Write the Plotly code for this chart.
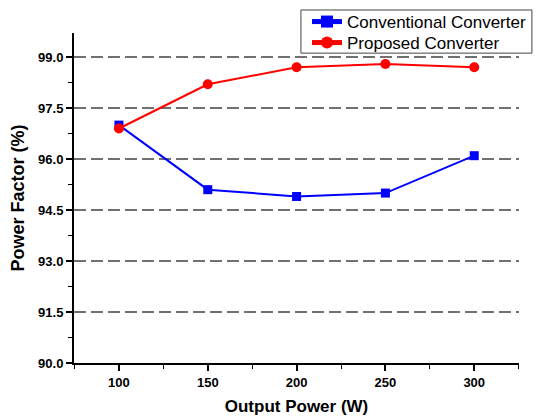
import plotly.graph_objects as go

output_power = [100, 150, 200, 250, 300]
conventional = [97.0, 95.1, 94.9, 95.0, 96.1]
proposed = [96.9, 98.2, 98.7, 98.8, 98.7]
y_ticks = [90.0, 91.5, 93.0, 94.5, 96.0, 97.5, 99.0]
x_ticks = [100, 150, 200, 250, 300]

FONT = "Liberation Sans, Arial, sans-serif"

fig = go.Figure()
fig.add_trace(go.Scatter(
    x=output_power, y=conventional, name="Conventional Converter",
    mode="lines+markers", legend="legend",
    line=dict(color="#0000ff", width=2),
    marker=dict(symbol="square", size=9, color="#0000ff"),
))
fig.add_trace(go.Scatter(
    x=output_power, y=proposed, name="Proposed Converter",
    mode="lines+markers", legend="legend2",
    line=dict(color="#ff0000", width=2),
    marker=dict(symbol="circle", size=10, color="#ff0000"),
))

leg_common = dict(
    xanchor="left", yanchor="middle",
    borderwidth=0, bgcolor="rgba(0,0,0,0)",
    font=dict(size=17, family=FONT, color="black"),
    itemsizing="constant",
)

# page body has an 8px margin, so the figure is 8px smaller and margins shifted
fig.update_layout(
    width=535, height=411,
    margin=dict(l=66, r=24, t=25, b=56, autoexpand=False),
    paper_bgcolor="white", plot_bgcolor="white",
    font=dict(family=FONT, color="black"),
    showlegend=True,
    legend=dict(x=0.5236, y=1.0333, **leg_common),
    legend2=dict(x=0.5236, y=0.9697, **leg_common),
    shapes=[dict(
        type="rect", xref="paper", yref="paper",
        x0=0.510, x1=1.029, y0=0.939, y1=1.0697,
        line=dict(color="#444444", width=1), fillcolor="white", layer="above",
    )],
    xaxis=dict(
        range=[74.7, 325.2],
        tickmode="array", tickvals=x_ticks,
        ticks="outside", ticklen=6, tickwidth=1.5, tickcolor="black",
        showline=True, linecolor="black", linewidth=2,
        showgrid=False, zeroline=False,
        tickfont=dict(size=13, family=FONT, weight="bold"),
        minor=dict(dtick=25, tick0=0, ticks="outside", ticklen=4, tickwidth=1.2, tickcolor="black", showgrid=False),
        title=dict(text="Output Power (W)", font=dict(size=17, family=FONT, weight="bold"), standoff=12),
    ),
    yaxis=dict(
        range=[90.0, 99.71],
        tickmode="array", tickvals=y_ticks, tickformat=".1f",
        ticks="outside", ticklen=6, tickwidth=1.5, tickcolor="black",
        showline=True, linecolor="black", linewidth=2,
        showgrid=True, gridcolor="#707070", gridwidth=1.5, griddash="12px,5px",
        zeroline=False,
        tickfont=dict(size=13, family=FONT, weight="bold"),
        minor=dict(dtick=0.75, tick0=90, ticks="outside", ticklen=4, tickwidth=1.2, tickcolor="black", showgrid=False),
        title=dict(text="Power Factor (%)", font=dict(size=18, family=FONT, weight="bold"), standoff=10),
    ),
)

fig.write_html("out.html")
